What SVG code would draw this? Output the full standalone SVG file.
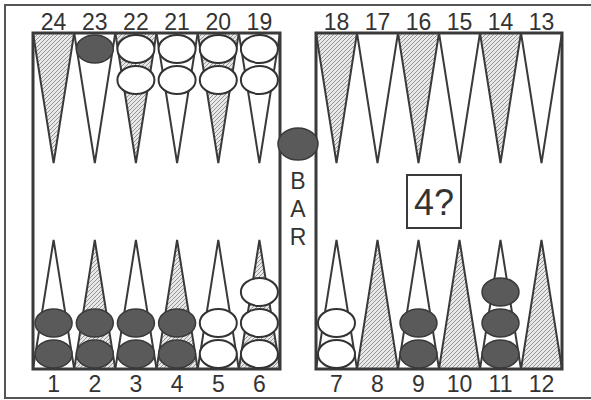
<svg xmlns="http://www.w3.org/2000/svg" width="591" height="400" viewBox="0 0 591 400">
<defs>
<pattern id="hatch" width="4" height="4" patternUnits="userSpaceOnUse">
<rect width="4" height="4" fill="#e8e8e8"/>
<path d="M-1,1 L1,-1 M0,4 L4,0 M3,5 L5,3" stroke="#959595" stroke-width="1"/>
</pattern>
<ellipse id="w" rx="18.5" ry="14" class="wc"/>
<ellipse id="b" rx="18.5" ry="14" class="bc"/>
</defs>
<style>
.tri{stroke:#3a3a3a;stroke-width:2;stroke-linejoin:miter}
.h{fill:url(#hatch)}
.p{fill:#fff}
.board{fill:none;stroke:#3a3a3a;stroke-width:3}
.wc{fill:#fff;stroke:#333;stroke-width:2}
.bc{fill:#5a5a5a;stroke:#3a3a3a;stroke-width:1.5}
.num{font-family:"Liberation Sans",Arial,sans-serif;font-size:23px;fill:#333;text-anchor:middle}
.bar{font-family:"Liberation Sans",Arial,sans-serif;font-size:23px;fill:#333;text-anchor:middle}
.cube{font-family:"Liberation Sans",Arial,sans-serif;font-size:36px;fill:#333;text-anchor:middle}
</style>
<rect x="0" y="0" width="591" height="400" fill="#fff"/>
<rect id="frame" x="5" y="5" width="600" height="393" fill="none" stroke="#555" stroke-width="2"/>

<g id="points">
<g id="p24"><polygon class="tri h" points="33,33 74.2,33 53.6,163"/><text class="num" x="53.6" y="30">24</text></g>
<g id="p23"><polygon class="tri p" points="74.2,33 115.3,33 94.8,163"/><text class="num" x="94.8" y="30">23</text></g>
<g id="p22"><polygon class="tri h" points="115.3,33 156.5,33 135.9,163"/><text class="num" x="135.9" y="30">22</text></g>
<g id="p21"><polygon class="tri p" points="156.5,33 197.7,33 177.1,163"/><text class="num" x="177.1" y="30">21</text></g>
<g id="p20"><polygon class="tri h" points="197.7,33 238.8,33 218.3,163"/><text class="num" x="218.3" y="30">20</text></g>
<g id="p19"><polygon class="tri p" points="238.8,33 280,33 259.4,163"/><text class="num" x="259.4" y="30">19</text></g>

<g id="p18"><polygon class="tri h" points="316,33 357,33 336.5,163"/><text class="num" x="336.5" y="30">18</text></g>
<g id="p17"><polygon class="tri p" points="357,33 398,33 377.5,163"/><text class="num" x="377.5" y="30">17</text></g>
<g id="p16"><polygon class="tri h" points="398,33 439,33 418.5,163"/><text class="num" x="418.5" y="30">16</text></g>
<g id="p15"><polygon class="tri p" points="439,33 480,33 459.5,163"/><text class="num" x="459.5" y="30">15</text></g>
<g id="p14"><polygon class="tri h" points="480,33 521,33 500.5,163"/><text class="num" x="500.5" y="30">14</text></g>
<g id="p13"><polygon class="tri p" points="521,33 562,33 541.5,163"/><text class="num" x="541.5" y="30">13</text></g>

<g id="p1"><polygon class="tri p" points="33,369 74.2,369 53.6,240"/><text class="num" x="53.6" y="392">1</text></g>
<g id="p2"><polygon class="tri h" points="74.2,369 115.3,369 94.8,240"/><text class="num" x="94.8" y="392">2</text></g>
<g id="p3"><polygon class="tri p" points="115.3,369 156.5,369 135.9,240"/><text class="num" x="135.9" y="392">3</text></g>
<g id="p4"><polygon class="tri h" points="156.5,369 197.7,369 177.1,240"/><text class="num" x="177.1" y="392">4</text></g>
<g id="p5"><polygon class="tri p" points="197.7,369 238.8,369 218.3,240"/><text class="num" x="218.3" y="392">5</text></g>
<g id="p6"><polygon class="tri h" points="238.8,369 280,369 259.4,240"/><text class="num" x="259.4" y="392">6</text></g>

<g id="p7"><polygon class="tri p" points="316,369 357,369 336.5,240"/><text class="num" x="336.5" y="392">7</text></g>
<g id="p8"><polygon class="tri h" points="357,369 398,369 377.5,240"/><text class="num" x="377.5" y="392">8</text></g>
<g id="p9"><polygon class="tri p" points="398,369 439,369 418.5,240"/><text class="num" x="418.5" y="392">9</text></g>
<g id="p10"><polygon class="tri h" points="439,369 480,369 459.5,240"/><text class="num" x="459.5" y="392">10</text></g>
<g id="p11"><polygon class="tri p" points="480,369 521,369 500.5,240"/><text class="num" x="500.5" y="392">11</text></g>
<g id="p12"><polygon class="tri h" points="521,369 562,369 541.5,240"/><text class="num" x="541.5" y="392">12</text></g>
</g>

<g id="boards">
<rect class="board" x="33" y="33" width="247" height="336"/>
<rect class="board" x="316" y="33" width="246" height="336"/>
</g>

<g id="checkers">
<use href="#b" x="94.8" y="49"/>
<use href="#w" x="135.9" y="49"/><use href="#w" x="135.9" y="80"/>
<use href="#w" x="177.1" y="49"/><use href="#w" x="177.1" y="80"/>
<use href="#w" x="218.3" y="49"/><use href="#w" x="218.3" y="80"/>
<use href="#w" x="259.4" y="49"/><use href="#w" x="259.4" y="80"/>

<use href="#b" x="53.6" y="354"/><use href="#b" x="53.6" y="323"/>
<use href="#b" x="94.8" y="354"/><use href="#b" x="94.8" y="323"/>
<use href="#b" x="135.9" y="354"/><use href="#b" x="135.9" y="323"/>
<use href="#b" x="177.1" y="354"/><use href="#b" x="177.1" y="323"/>
<use href="#w" x="218.3" y="354"/><use href="#w" x="218.3" y="323"/>
<use href="#w" x="259.4" y="354"/><use href="#w" x="259.4" y="323"/><use href="#w" x="259.4" y="292"/>

<use href="#w" x="336.5" y="354"/><use href="#w" x="336.5" y="323"/>
<use href="#b" x="418.5" y="354"/><use href="#b" x="418.5" y="323"/>
<use href="#b" x="500.5" y="354"/><use href="#b" x="500.5" y="323"/><use href="#b" x="500.5" y="292"/>
</g>

<g id="bar">
<ellipse class="bc" cx="298" cy="144" rx="20" ry="16"/>
<text class="bar" x="298" y="189">B</text>
<text class="bar" x="298" y="217">A</text>
<text class="bar" x="298" y="245">R</text>
</g>

<g id="cube">
<rect x="407" y="175" width="54" height="53" fill="#fff" stroke="#3a3a3a" stroke-width="2"/>
<text class="cube" x="434" y="215">4?</text>
</g>
</svg>
